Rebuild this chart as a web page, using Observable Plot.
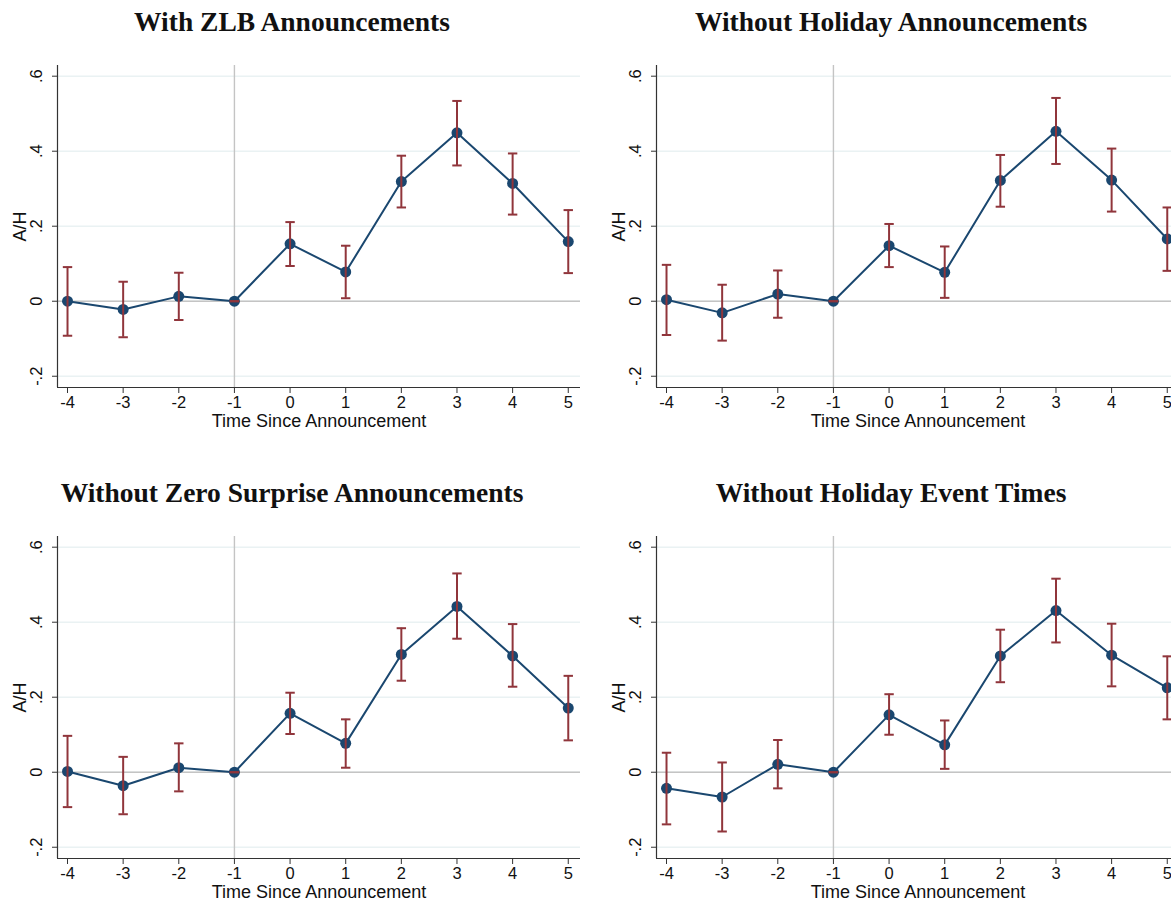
<!DOCTYPE html>
<html>
<head>
<meta charset="utf-8">
<script src="https://cdn.jsdelivr.net/npm/d3@7"></script>
<script src="https://cdn.jsdelivr.net/npm/@observablehq/plot@0.6"></script>
<style>
  html, body { margin: 0; padding: 0; background: #fff; }
  #wrap { position: relative; width: 1171px; height: 902px; overflow: hidden; background: #fff; }
  .panel { position: absolute; width: 599px; height: 471px; }
  .title { position: absolute; left: 0; top: 0; width: 584px; height: 44px; line-height: 44px;
           text-align: center; font-family: "Liberation Serif", "DejaVu Serif", serif; font-weight: bold;
           font-size: 27.5px; color: #111; white-space: nowrap; }
  .chart { position: absolute; left: 0; top: 40px; }
</style>
</head>
<body>
<div id="wrap"></div>
<script>
// ---- Data ----
const eventTime = [-4, -3, -2, -1, 0, 1, 2, 3, 4, 5];
const xTicks = [-4, -3, -2, -1, 0, 1, 2, 3, 4, 5];
const yTicks = [-0.2, 0, 0.2, 0.4, 0.6];
const yTickLabels = ["-.2", "0", ".2", ".4", ".6"];
const xLabel = "Time Since Announcement";
const yLabel = "A/H";
const titles = [
  "With ZLB Announcements",
  "Without Holiday Announcements",
  "Without Zero Surprise Announcements",
  "Without Holiday Event Times"
];

// Panel 1: With ZLB Announcements
const coefZLB = [0.000, -0.022, 0.013, 0, 0.153, 0.078, 0.319, 0.449, 0.314, 0.159];
const loZLB   = [-0.092, -0.096, -0.050, 0, 0.094, 0.008, 0.250, 0.362, 0.231, 0.075];
const hiZLB   = [0.091, 0.052, 0.076, 0, 0.211, 0.148, 0.388, 0.534, 0.394, 0.243];

// Panel 2: Without Holiday Announcements
const coefHol = [0.004, -0.031, 0.019, 0, 0.148, 0.077, 0.322, 0.453, 0.323, 0.166];
const loHol   = [-0.090, -0.105, -0.044, 0, 0.091, 0.009, 0.252, 0.366, 0.239, 0.081];
const hiHol   = [0.097, 0.044, 0.082, 0, 0.206, 0.146, 0.390, 0.542, 0.407, 0.250];

// Panel 3: Without Zero Surprise Announcements
const coefZero = [0.002, -0.036, 0.012, 0, 0.157, 0.077, 0.314, 0.442, 0.310, 0.171];
const loZero   = [-0.093, -0.112, -0.051, 0, 0.102, 0.012, 0.244, 0.356, 0.228, 0.085];
const hiZero   = [0.097, 0.041, 0.077, 0, 0.212, 0.141, 0.384, 0.530, 0.395, 0.257];

// Panel 4: Without Holiday Event Times
const coefEvt = [-0.043, -0.066, 0.021, 0, 0.153, 0.073, 0.310, 0.431, 0.312, 0.225];
const loEvt   = [-0.139, -0.158, -0.043, 0, 0.100, 0.009, 0.240, 0.346, 0.229, 0.141];
const hiEvt   = [0.052, 0.026, 0.086, 0, 0.208, 0.138, 0.380, 0.516, 0.396, 0.309];

const series = [
  [coefZLB, loZLB, hiZLB],
  [coefHol, loHol, hiHol],
  [coefZero, loZero, hiZero],
  [coefEvt, loEvt, hiEvt]
];

// ---- Scales / styles ----
const xDomain = [-4.18, 5.22];
const yDomain = [-0.23, 0.6285];
const NAVY = "#1a476f";
const MAROON = "#90353b";
const GRID = "#eaf2f3";
const REF = "#c4c4c4";
const AXIS = "#333";
const SANS = "'Liberation Sans', Arial, Helvetica, sans-serif";

const capSymbol = {
  draw(context, size) {
    const w = Math.sqrt(size / Math.PI);
    context.moveTo(-w, 0);
    context.lineTo(w, 0);
  }
};

function makeChart(coef, lo, hi) {
  const rows = eventTime.map((t, i) => ({t, b: coef[i], lo: lo[i], hi: hi[i]}));
  return Plot.plot({
    width: 599,
    height: 400,
    marginLeft: 57,
    marginRight: 19,
    marginTop: 25,
    marginBottom: 53,
    style: {fontFamily: SANS, background: "#fff", overflow: "visible"},
    x: {domain: xDomain, axis: null},
    y: {domain: yDomain, axis: null},
    marks: [
      Plot.ruleY(yTicks, {stroke: GRID, strokeWidth: 1.5}),
      Plot.ruleY([0], {stroke: REF, strokeWidth: 1.4}),
      Plot.ruleX([-1], {stroke: REF, strokeWidth: 1.4}),
      Plot.ruleX([xDomain[0]], {stroke: AXIS, strokeWidth: 1.2}),
      Plot.ruleY([yDomain[0]], {stroke: AXIS, strokeWidth: 1.2}),
      Plot.axisX({
        ticks: xTicks, tickFormat: d => String(d), tickSize: 6, tickPadding: 3,
        fontSize: 16.5, stroke: AXIS, color: "#111", label: null
      }),
      Plot.axisY({
        ticks: yTicks, tickFormat: d => yTickLabels[yTicks.indexOf(d)],
        tickSize: 5, tickPadding: 11, tickRotate: -90, textAnchor: "middle",
        fontSize: 16.5, stroke: AXIS, color: "#111", label: null
      }),
      Plot.text([xLabel], {frameAnchor: "bottom", dy: 34, fontSize: 18, fill: "#111", lineAnchor: "middle"}),
      Plot.text([yLabel], {frameAnchor: "left", dx: -37.5, rotate: -90, fontSize: 18, fill: "#111", lineAnchor: "middle", textAnchor: "middle"}),
      Plot.line(rows, {x: "t", y: "b", stroke: NAVY, strokeWidth: 2}),
      Plot.dot(rows, {x: "t", y: "b", r: 5.5, fill: NAVY, stroke: "none"}),
      Plot.ruleX(rows, {x: "t", y1: "lo", y2: "hi", stroke: MAROON, strokeWidth: 2}),
      Plot.dot(rows, {x: "t", y: "lo", symbol: capSymbol, r: 4.7, stroke: MAROON, strokeWidth: 2, fill: "none"}),
      Plot.dot(rows, {x: "t", y: "hi", symbol: capSymbol, r: 4.7, stroke: MAROON, strokeWidth: 2, fill: "none"})
    ]
  });
}

const wrap = document.getElementById("wrap");
const positions = [[0, 0], [599, 0], [0, 471], [599, 471]];
series.forEach(([c, l, h], i) => {
  const panel = document.createElement("div");
  panel.className = "panel";
  panel.style.left = positions[i][0] + "px";
  panel.style.top = positions[i][1] + "px";
  const title = document.createElement("div");
  title.className = "title";
  title.textContent = titles[i];
  panel.appendChild(title);
  const chart = makeChart(c, l, h);
  chart.classList.add("chart");
  panel.appendChild(chart);
  wrap.appendChild(panel);
});
</script>
</body>
</html>
